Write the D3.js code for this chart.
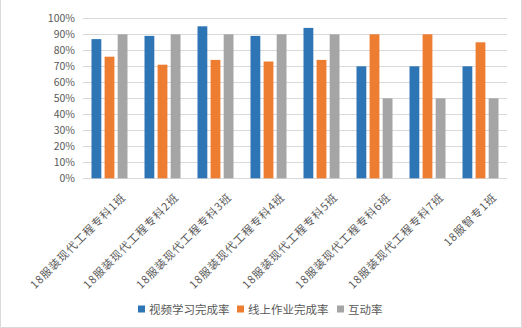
<!DOCTYPE html>
<html>
<head>
<meta charset="utf-8">
<script src="https://cdn.jsdelivr.net/npm/d3@7/dist/d3.min.js"></script>
<style>
  html, body { margin: 0; padding: 0; background: #fff; }
  svg { display: block; }
  text { font-family: "Noto Sans CJK SC", "Noto Sans", sans-serif; fill: #595959; }
</style>
</head>
<body>
<svg id="chart" width="522" height="328"></svg>
<script>
// Class names along the x axis
const categories = [
  "18服装现代工程专科1班",
  "18服装现代工程专科2班",
  "18服装现代工程专科3班",
  "18服装现代工程专科4班",
  "18服装现代工程专科5班",
  "18服装现代工程专科6班",
  "18服装现代工程专科7班",
  "18服智专1班"
];
// Completion rates (%) per class
const videoRate = [87, 89, 95, 89, 94, 70, 70, 70];
const homeworkRate = [76, 71, 74, 73, 74, 90, 90, 85];
const interactionRate = [90, 90, 90, 90, 90, 50, 50, 50];
const seriesNames = ["视频学习完成率", "线上作业完成率", "互动率"];
const yTicks = [0, 10, 20, 30, 40, 50, 60, 70, 80, 90, 100];

const colors = ["#2E75B6", "#ED7D31", "#A5A5A5"];
const seriesValues = [videoRate, homeworkRate, interactionRate];

const svg = d3.select("#chart");
const W = 522, H = 328;

// outer frame
svg.append("path")
  .attr("d", `M0.5,0 V${H - 0.5} H${W - 0.5} V0`)
  .attr("fill", "none").attr("stroke", "#D9D9D9").attr("stroke-width", 1);

const plot = { left: 83, right: 507, top: 18.3, bottom: 178.3 };

const x = d3.scaleBand().domain(categories).range([plot.left, plot.right]).padding(0);
const y = d3.scaleLinear().domain([0, 100]).range([plot.bottom, plot.top]);
const inner = d3.scaleBand().domain(d3.range(3)).range([-18, 18]).paddingInner(0.25).paddingOuter(0);

// gridlines
svg.append("g").selectAll("line").data(yTicks).join("line")
  .attr("x1", plot.left).attr("x2", plot.right)
  .attr("y1", d => Math.round(y(d)) + 0.5).attr("y2", d => Math.round(y(d)) + 0.5)
  .attr("stroke", "#D9D9D9").attr("stroke-width", 1);

// y axis labels
const yAxis = d3.axisLeft(y).tickValues(yTicks).tickFormat(d => d + "%").tickSize(0).tickPadding(0);
const yg = svg.append("g").attr("transform", `translate(${plot.left - 8},0)`).call(yAxis);
yg.select(".domain").remove();
yg.selectAll("text").attr("font-size", 10.5).style("font-family", '"Noto Sans CJK SC", sans-serif').attr("fill", "#595959");

// bars
const groups = svg.append("g").selectAll("g").data(categories).join("g")
  .attr("transform", d => `translate(${x(d) + x.bandwidth() / 2},0)`);
groups.selectAll("rect").data((d, i) => seriesValues.map((vals, s) => ({ s, v: vals[i] }))).join("rect")
  .attr("x", d => inner(d.s))
  .attr("width", inner.bandwidth())
  .attr("y", d => y(d.v))
  .attr("height", d => y(0) - y(d.v))
  .attr("fill", d => colors[d.s]);

// x axis labels, rotated
svg.append("g").selectAll("text").data(categories).join("text")
  .attr("transform", d => `translate(${x(d) + x.bandwidth() / 2 + 17},198) rotate(-45)`)
  .attr("text-anchor", "end")
  .attr("font-size", 11)
  .attr("letter-spacing", 1.0)
  .text(d => d);

// legend
const legend = svg.append("g");
const legendX = [138, 237, 337];
seriesNames.forEach((name, i) => {
  legend.append("rect").attr("x", legendX[i]).attr("y", 305.5).attr("width", 7).attr("height", 7).attr("fill", colors[i]);
  legend.append("text").attr("x", legendX[i] + 11).attr("y", 313.5).attr("font-size", 11.5).text(name);
});
</script>
</body>
</html>
